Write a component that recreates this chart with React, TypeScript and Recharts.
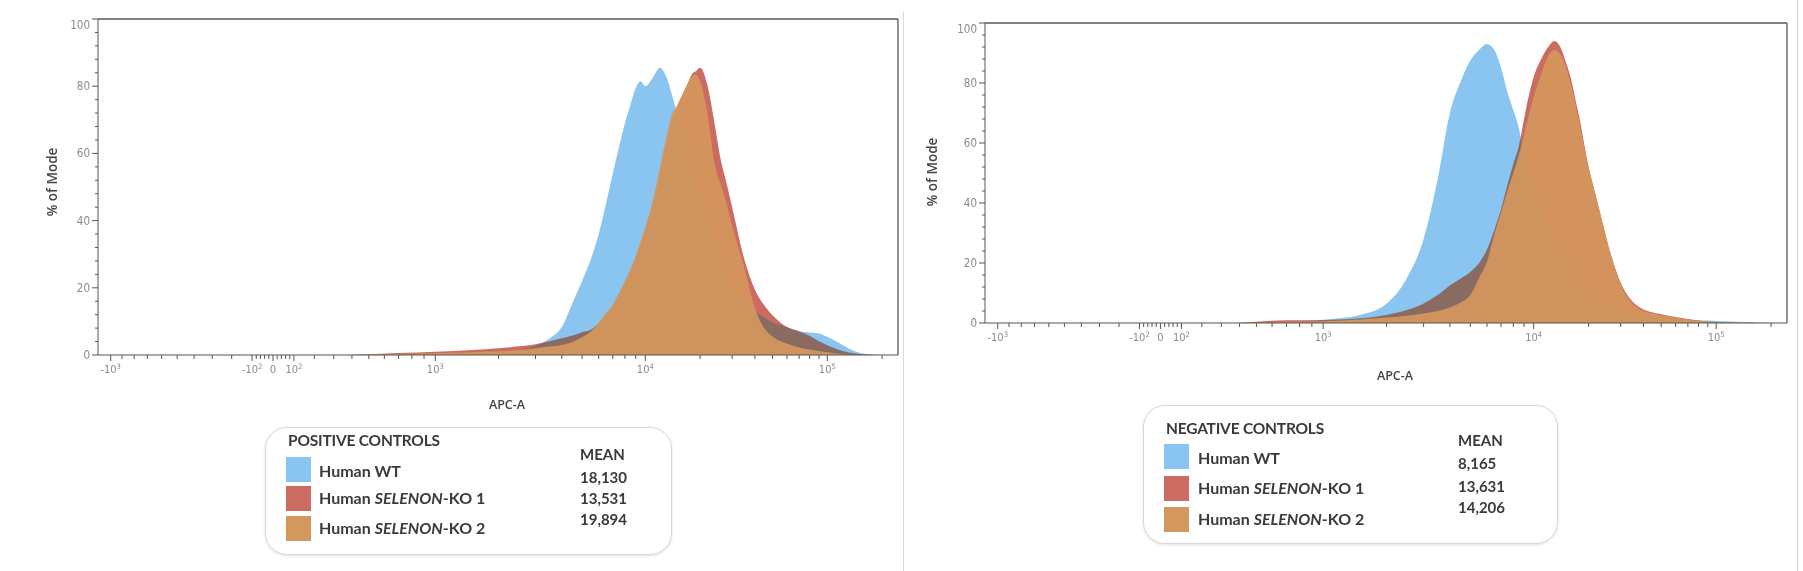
import React from "react";
import { AreaChart, Area, XAxis, YAxis, ReferenceLine } from "recharts";

// APC-A intensities where the histograms were read
const apcA = [
  400, 700, 1000, 1500, 2000, 2500, 3000, 3500, 4000, 4500,
  5000, 5500, 6000, 6500, 7000, 7500, 8000, 8500, 9000, 9500,
  10000, 11000, 12000, 13000, 14000, 15000, 16000, 17000, 18000, 19000,
  20000, 22000, 24000, 26000, 28000, 30000, 35000, 40000, 45000, 50000,
  60000, 70000, 80000, 90000, 100000, 120000, 140000, 170000, 200000,
];

// % of Mode, positive controls
const posWT = [
  0, 0.1, 0.3, 0.6, 0.9, 1.5, 2.8, 4.9, 8.3, 15.5,
  22, 28.5, 36, 45, 54, 62, 69, 74.5, 79.5, 81.5,
  80, 82.5, 85.5, 83, 77.5, 71.5, 66.5, 61, 56, 51,
  46, 39, 32.5, 27.5, 23.5, 20, 15.7, 13.2, 11.3, 9.8,
  8.3, 7.1, 6.7, 6.4, 5.4, 3.1, 1.2, 0.2, 0,
];
const posKO1 = [
  0.05, 0.6, 1.0, 1.5, 2.0, 2.6, 3.2, 4.1, 5.0, 5.8,
  6.8, 7.5, 9.5, 12, 14.5, 18, 21.5, 25, 29, 33,
  37.5, 45, 54, 62.5, 69.5, 73.5, 77.5, 80.5, 83.5, 84.5,
  85.5, 80, 69, 58, 51, 44, 28.5, 19.5, 14.8, 11.8,
  8.3, 7.0, 5.7, 4.1, 2.9, 1.3, 0.5, 0.1, 0,
];
const posKO2 = [
  0, 0.3, 0.5, 0.8, 1.1, 1.5, 2.0, 2.5, 3.0, 3.9,
  5.3, 7, 9.7, 12.5, 15, 18.5, 22, 25.5, 29.5, 33.8,
  38, 46, 55.5, 64.5, 71.5, 74.5, 77.5, 80.5, 83, 83.5,
  81.5, 71.5, 57, 50.5, 45, 38.5, 26, 14, 8, 5.5,
  3.4, 2.2, 1.6, 1.2, 0.8, 0.3, 0.1, 0, 0,
];

// % of Mode, negative controls
const negWT = [
  0, 0.1, 1.1, 2.7, 6.4, 15, 28, 48, 70, 80.5,
  87.5, 91, 93, 91, 85, 77, 71, 65, 56, 49,
  44, 37, 31, 26.5, 22.5, 19.5, 16.5, 14, 12.2, 10.8,
  9.3, 7.3, 5.9, 4.9, 4.1, 3.5, 2.7, 2.2, 1.9, 1.6,
  1.3, 1.1, 0.9, 0.8, 0.7, 0.5, 0.3, 0.15, 0.05,
];
const negKO1 = [
  0.05, 0.9, 1.0, 1.6, 2.7, 4.3, 6.5, 9.3, 12.5, 14.8,
  17, 20, 24.5, 31, 38, 46, 53, 59, 68, 76,
  82, 88, 92, 94, 92, 87, 81.5, 74, 67, 59,
  52, 42, 32.5, 24.5, 18.2, 13.3, 7, 4.5, 3.5, 2.9,
  2, 1.3, 0.8, 0.5, 0.35, 0.15, 0.05, 0, 0,
];
const negKO2 = [
  0, 0.3, 0.6, 1.2, 1.8, 2.4, 3.2, 4.0, 5.2, 6.8,
  9.3, 15, 20.5, 29.5, 37, 44, 50, 56, 62.5, 69.5,
  75.5, 83, 89, 91, 89.5, 85.5, 79.5, 72.5, 65.5, 58,
  52, 42, 33, 24.5, 18, 12.7, 6.4, 4, 3.2, 2.6,
  1.8, 1.2, 0.8, 0.5, 0.35, 0.15, 0.05, 0, 0,
];

const xMajor = [-1000, -100, 0, 100, 1000, 10000, 100000];
const xMajorLabels = [
  ["-10", "3"], ["-10", "2"], ["0", ""], ["10", "2"], ["10", "3"], ["10", "4"], ["10", "5"],
];
const xMinor = [
  -900, -800, -700, -600, -500, -400, -300, -200,
  -80, -60, -40, -20, 20, 40, 60, 80,
  200, 300, 400, 500, 600, 700, 800, 900,
  2000, 3000, 4000, 5000, 6000, 7000, 8000, 9000,
  20000, 30000, 40000, 50000, 60000, 70000, 80000, 90000, 200000,
];
const yTicks = Array.from({ length: 26 }, (_, i) => i * 4);

const names = ["Human WT", "Human SELENON-KO 1", "Human SELENON-KO 2"];
const posMeans = ["18,130", "13,531", "19,894"];
const negMeans = ["8,165", "13,631", "14,206"];
const colors = ["#8AC4F0", "#CC6B62", "#D4975D"];

// biexponential-ish display transform of the cytometer axis
const D1K = 127 * Math.asinh(1000 / 604);
function toAxis(v: number) {
  const s = v < 0 ? -1 : 1;
  const a = Math.abs(v);
  let d;
  if (a <= 1000) d = 127 * Math.asinh(a / 604);
  else if (a <= 10000) d = D1K + 210 * Math.log10(a / 1000);
  else if (a <= 100000) d = D1K + 210 + 182 * Math.log10(a / 10000);
  else d = D1K + 392 + 182 * Math.log10(a / 100000);
  return 175 + s * d;
}

const majorU = xMajor.map(toAxis);
const xTicks = [...xMajor, ...xMinor].map(toAxis);

const buildRows = (wt: number[], ko1: number[], ko2: number[]) =>
  apcA.map((v, i) => ({ u: toAxis(v), wt: wt[i], ko1: ko1[i], ko2: ko2[i] }));

const tickFont = "'Liberation Sans Narrow', 'DejaVu Sans Condensed', Arial, sans-serif";

function XTick(props: any) {
  const { x, y, payload } = props;
  const idx = majorU.findIndex((m) => Math.abs(m - payload.value) < 0.01);
  const major = idx >= 0;
  return (
    <g>
      <line x1={x} x2={x} y1={y} y2={y + (major ? 6 : 4)} stroke="#555" strokeWidth={1} />
      {major && (
        <text x={x} y={y + 18} textAnchor="middle" fontSize={11} fill="#8a8a8a" fontFamily={tickFont}>
          {xMajorLabels[idx][0]}
          {xMajorLabels[idx][1] && (
            <tspan dy={-4} fontSize={7.5}>
              {xMajorLabels[idx][1]}
            </tspan>
          )}
        </text>
      )}
    </g>
  );
}

function YTick(props: any) {
  const { x, y, payload } = props;
  const major = payload.value % 20 === 0;
  return (
    <g>
      <line x1={x - (major ? 6 : 3)} x2={x} y1={y} y2={y} stroke="#555" strokeWidth={1} />
      {major && (
        <text
          x={x - 8}
          y={y + 4 + (payload.value === 100 ? 6 : 0)}
          textAnchor="end"
          fontSize={11.5}
          fill="#8a8a8a"
          fontFamily={tickFont}
        >
          {payload.value}
        </text>
      )}
    </g>
  );
}

function Histogram({ rows, width, height, margin }: any) {
  return (
    <AreaChart width={width} height={height} data={rows} margin={margin}>
      <XAxis
        type="number"
        dataKey="u"
        domain={[0, 800]}
        ticks={xTicks}
        interval={0}
        allowDataOverflow
        height={1}
        tickSize={0}
        tickMargin={0}
        tickLine={false}
        axisLine={{ stroke: "#555" }}
        tick={<XTick />}
      />
      <YAxis
        type="number"
        domain={[0, 100]}
        ticks={yTicks}
        interval={0}
        allowDataOverflow
        width={1}
        tickSize={0}
        tickMargin={0}
        tickLine={false}
        axisLine={{ stroke: "#555" }}
        tick={<YTick />}
      />
      <Area type="monotone" dataKey="wt" stroke="none" fill={colors[0]} fillOpacity={1} isAnimationActive={false} activeDot={false} />
      <Area type="monotone" dataKey="ko1" className="ko1-layer" stroke="none" fill={colors[1]} fillOpacity={1} isAnimationActive={false} activeDot={false} />
      <Area type="monotone" dataKey="ko2" stroke="none" fill={colors[2]} fillOpacity={0.93} isAnimationActive={false} activeDot={false} />
      <ReferenceLine y={100} stroke="#5a5a5a" strokeWidth={1.3} />
      <ReferenceLine x={800} stroke="#5a5a5a" strokeWidth={1.3} />
    </AreaChart>
  );
}

const legendFont = "Lato, 'Open Sans', sans-serif";

function Label({ name }: { name: string }) {
  const parts = name.split("SELENON");
  if (parts.length < 2) return <>{name}</>;
  return (
    <>
      {parts[0]}
      <i>SELENON</i>
      {parts[1]}
    </>
  );
}

function Text({ x, cy, size = 15, children, style }: any) {
  return (
    <div
      style={{
        position: "absolute",
        left: x,
        top: cy - 9,
        height: 18,
        lineHeight: "18px",
        fontSize: size,
        fontFamily: legendFont,
        fontWeight: 700,
        color: "#3a3a3a",
        whiteSpace: "nowrap",
        ...style,
      }}
    >
      {children}
    </div>
  );
}

function LegendBox({ box, title, titleY, swatchX, labelX, rowY, meanX, meanY, valueY, means }: any) {
  return (
    <>
      <div
        style={{
          position: "absolute",
          left: box[0],
          top: box[1],
          width: box[2],
          height: box[3],
          border: "1.5px solid #d6d6d6",
          borderRadius: 22,
          boxShadow: "0 1px 3px rgba(0,0,0,0.12)",
          boxSizing: "border-box",
        }}
      />
      <Text x={swatchX + 2} cy={titleY} size={15.5} style={{ letterSpacing: -0.2 }}>
        {title}
      </Text>
      {names.map((n, i) => (
        <React.Fragment key={n}>
          <div
            style={{
              position: "absolute",
              left: swatchX,
              top: rowY[i] - 12.5,
              width: 25,
              height: 25,
              background: colors[i],
            }}
          />
          <Text x={labelX} cy={rowY[i] + (i === 0 ? 2 : 0)} size={16}>
            <Label name={n} />
          </Text>
        </React.Fragment>
      ))}
      <Text x={meanX} cy={meanY}>MEAN</Text>
      {means.map((m: string, i: number) => (
        <Text key={m} x={meanX} cy={valueY[i]}>
          {m}
        </Text>
      ))}
    </>
  );
}

function AxisTitle({ x, cy, text, rotate, size }: any) {
  return (
    <div
      style={{
        position: "absolute",
        left: x - 60,
        top: cy - 9,
        width: 120,
        height: 18,
        lineHeight: "18px",
        textAlign: "center",
        fontSize: size,
        fontWeight: 600,
        fontFamily: "'Open Sans', sans-serif",
        color: "#444",
        transform: rotate ? "rotate(-90deg)" : undefined,
      }}
    >
      {text}
    </div>
  );
}

export default function App() {
  const posRows = buildRows(posWT, posKO1, posKO2);
  const negRows = buildRows(negWT, negKO1, negKO2);
  return (
    <div
      style={{
        position: "absolute",
        left: 0,
        top: 0,
        width: 1803,
        height: 571,
        background: "#fff",
        overflow: "hidden",
      }}
    >
      <style>{`.ko1-layer{mix-blend-mode:darken}`}</style>
      <div style={{ position: "absolute", left: 0, top: 0 }}>
        <Histogram rows={posRows} width={912} height={420} margin={{ top: 19, right: 14, bottom: 64, left: 97 }} />
      </div>
      <div style={{ position: "absolute", left: 900, top: 0 }}>
        <Histogram rows={negRows} width={900} height={390} margin={{ top: 23, right: 13, bottom: 66, left: 84 }} />
      </div>
      <div style={{ position: "absolute", left: 903, top: 12, width: 1, height: 559, background: "#d8d8d8" }} />
      <div style={{ position: "absolute", left: 1797, top: 0, width: 1, height: 571, background: "#d0d0d0" }} />

      <AxisTitle x={52} cy={182} text="% of Mode" rotate size={13.5} />
      <AxisTitle x={932} cy={172} text="% of Mode" rotate size={13.5} />
      <AxisTitle x={507} cy={405} text="APC-A" size={12.5} />
      <AxisTitle x={1395} cy={376} text="APC-A" size={12.5} />

      <LegendBox
        box={[265, 427, 407, 128]}
        title="POSITIVE CONTROLS"
        titleY={440}
        swatchX={286}
        labelX={319}
        rowY={[469, 498, 528]}
        meanX={580}
        meanY={454}
        valueY={[477, 498, 519]}
        means={posMeans}
      />
      <LegendBox
        box={[1143, 405, 415, 139]}
        title="NEGATIVE CONTROLS"
        titleY={428}
        swatchX={1164}
        labelX={1198}
        rowY={[456, 488, 519]}
        meanX={1458}
        meanY={440}
        valueY={[463, 486, 507]}
        means={negMeans}
      />
    </div>
  );
}
